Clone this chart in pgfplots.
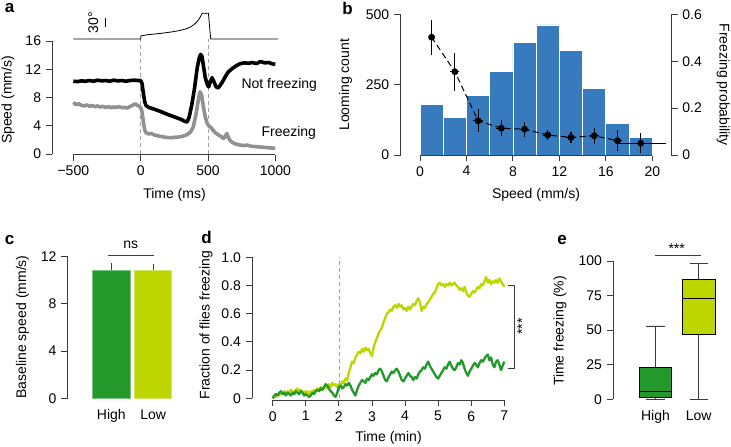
\documentclass[border=0pt]{standalone}
\usepackage{fontspec}
\setmainfont{Liberation Sans}
\usepackage{pgfplots}
\pgfplotsset{compat=1.18}
\usepgfplotslibrary{statistics}
\usepackage{pgfplotstable}

\definecolor{hig}{RGB}{35,152,43}
\definecolor{low}{RGB}{190,214,0}
\definecolor{barblue}{RGB}{55,122,190}
\definecolor{axgray}{RGB}{60,60,60}
\definecolor{curvegray}{RGB}{145,145,145}

% panel a: speed traces
\pgfplotstableread[row sep=\\]{
t v\\
-500 10.3\\ -470 10.25\\ -440 10.35\\ -410 10.3\\ -380 10.4\\ -350 10.3\\ -320 10.45\\ -290 10.35\\
-260 10.4\\ -230 10.3\\ -200 10.45\\ -170 10.35\\ -140 10.4\\ -110 10.3\\ -80 10.4\\ -50 10.45\\
-20 10.4\\ 0 10.4\\ 10 10.0\\ 20 8.6\\ 30 7.4\\ 40 6.85\\ 60 6.6\\ 100 6.35\\ 150 6.0\\ 200 5.6\\
250 5.25\\ 300 4.9\\ 330 4.6\\ 345 4.55\\ 360 5.2\\ 380 7.0\\ 400 9.3\\ 420 12.2\\ 435 13.6\\
445 14.1\\ 455 13.8\\ 465 12.6\\ 480 10.8\\ 495 9.8\\ 505 9.5\\ 515 10.1\\ 530 10.8\\ 545 10.2\\
560 9.5\\ 575 9.35\\ 590 9.7\\ 610 10.3\\ 630 11.0\\ 650 11.6\\ 680 12.1\\ 710 12.5\\ 740 12.8\\
770 12.9\\ 800 12.85\\ 830 12.95\\ 860 12.8\\ 890 13.1\\ 920 12.9\\ 950 12.95\\ 980 12.75\\ 1000 12.7\\
}\notfreeze

\pgfplotstableread[row sep=\\]{
t v\\
-500 7.3\\ -480 7.0\\ -460 7.1\\ -440 6.9\\ -420 6.8\\ -400 6.95\\ -380 6.75\\ -360 6.85\\ -340 6.7\\
-320 6.8\\ -300 6.65\\ -280 6.75\\ -260 6.6\\ -240 6.7\\ -220 6.55\\ -200 6.65\\ -180 6.6\\ -160 6.7\\
-140 6.55\\ -120 6.6\\ -100 6.5\\ -80 6.7\\ -60 6.9\\ -40 7.1\\ -20 6.85\\ 0 6.6\\ 10 6.0\\ 20 4.6\\
30 3.4\\ 40 3.0\\ 60 2.85\\ 80 2.9\\ 100 2.7\\ 130 2.55\\ 160 2.45\\ 190 2.35\\ 220 2.3\\ 250 2.35\\
280 2.4\\ 310 2.5\\ 340 2.7\\ 370 3.1\\ 390 3.8\\ 410 5.5\\ 425 7.3\\ 440 8.8\\ 452 8.4\\ 465 6.8\\
480 5.2\\ 495 4.3\\ 510 3.9\\ 525 3.7\\ 540 3.3\\ 555 3.0\\ 570 2.8\\ 585 2.6\\ 600 2.45\\ 615 2.2\\
628 2.5\\ 640 2.9\\ 652 2.3\\ 665 1.9\\ 680 1.65\\ 700 1.45\\ 730 1.3\\ 760 1.2\\ 790 1.25\\ 820 1.1\\
850 1.05\\ 880 1.0\\ 910 0.95\\ 940 0.9\\ 970 0.85\\ 1000 0.8\\
}\freeze

\pgfplotstableread[row sep=\\]{
t v\\
-500 16.28\\ 0 16.28\\ 0 16.71\\ 50 16.88\\ 100 16.98\\ 150 17.08\\ 200 17.2\\ 250 17.34\\ 300 17.52\\
340 17.74\\ 370 17.98\\ 395 18.3\\ 415 18.65\\ 430 19.0\\ 442 19.38\\ 452 19.75\\ 458 19.92\\
503 19.92\\ 520 16.28\\ 1020 16.28\\
}\stimulus

% panel d: fraction freezing
\pgfplotstableread[row sep=\\]{
t f\\
0.00 0.00\\ 0.05 0.02\\ 0.10 0.01\\ 0.15 0.03\\ 0.20 0.02\\ 0.25 0.04\\ 0.30 0.03\\ 0.35 0.05\\
0.40 0.03\\ 0.45 0.05\\ 0.50 0.04\\ 0.55 0.06\\ 0.60 0.05\\ 0.65 0.04\\ 0.70 0.06\\ 0.75 0.07\\
0.80 0.05\\ 0.85 0.06\\ 0.90 0.04\\ 0.95 0.05\\ 1.00 0.04\\ 1.05 0.05\\ 1.10 0.03\\ 1.15 0.05\\
1.20 0.04\\ 1.25 0.06\\ 1.30 0.05\\ 1.35 0.07\\ 1.40 0.06\\ 1.45 0.08\\ 1.50 0.06\\ 1.55 0.07\\
1.60 0.09\\ 1.65 0.07\\ 1.70 0.10\\ 1.75 0.08\\ 1.80 0.11\\ 1.85 0.09\\ 1.90 0.10\\ 1.95 0.08\\
2.00 0.10\\ 2.05 0.09\\ 2.10 0.12\\ 2.15 0.11\\ 2.20 0.14\\ 2.25 0.13\\ 2.30 0.18\\ 2.35 0.22\\
2.40 0.26\\ 2.45 0.25\\ 2.50 0.29\\ 2.55 0.31\\ 2.60 0.33\\ 2.65 0.32\\ 2.70 0.35\\ 2.75 0.33\\
2.80 0.36\\ 2.85 0.34\\ 2.90 0.35\\ 2.95 0.32\\ 3.00 0.30\\ 3.05 0.36\\ 3.10 0.40\\ 3.15 0.43\\
3.20 0.46\\ 3.25 0.48\\ 3.30 0.50\\ 3.35 0.54\\ 3.40 0.57\\ 3.45 0.60\\ 3.50 0.61\\ 3.55 0.63\\
3.60 0.62\\ 3.65 0.65\\ 3.70 0.66\\ 3.75 0.64\\ 3.80 0.67\\ 3.85 0.65\\ 3.90 0.66\\ 3.95 0.63\\
4.00 0.64\\ 4.05 0.62\\ 4.10 0.65\\ 4.15 0.63\\ 4.20 0.65\\ 4.25 0.67\\ 4.30 0.66\\ 4.35 0.69\\
4.40 0.71\\ 4.45 0.68\\ 4.50 0.62\\ 4.55 0.65\\ 4.60 0.64\\ 4.65 0.67\\ 4.70 0.68\\ 4.75 0.70\\
4.80 0.72\\ 4.85 0.74\\ 4.90 0.75\\ 4.95 0.78\\ 5.00 0.81\\ 5.05 0.82\\ 5.10 0.80\\ 5.15 0.81\\
5.20 0.79\\ 5.25 0.81\\ 5.30 0.80\\ 5.35 0.82\\ 5.40 0.80\\ 5.45 0.81\\ 5.50 0.82\\ 5.55 0.80\\
5.60 0.79\\ 5.65 0.77\\ 5.70 0.78\\ 5.75 0.76\\ 5.80 0.79\\ 5.85 0.75\\ 5.90 0.73\\ 5.95 0.72\\
6.00 0.74\\ 6.05 0.76\\ 6.10 0.75\\ 6.15 0.77\\ 6.20 0.79\\ 6.25 0.78\\ 6.30 0.81\\ 6.35 0.80\\
6.40 0.83\\ 6.45 0.86\\ 6.50 0.82\\ 6.55 0.84\\ 6.60 0.81\\ 6.65 0.83\\ 6.70 0.82\\ 6.75 0.84\\
6.80 0.82\\ 6.85 0.85\\ 6.90 0.83\\ 6.95 0.81\\ 7.00 0.79\\
}\lowdata

\pgfplotstableread[row sep=\\]{
t f\\
0.00 0.00\\ 0.05 0.02\\ 0.10 0.03\\ 0.15 0.02\\ 0.20 0.04\\ 0.25 0.05\\ 0.30 0.03\\ 0.35 0.04\\
0.40 0.02\\ 0.45 0.04\\ 0.50 0.03\\ 0.55 0.02\\ 0.60 0.04\\ 0.65 0.03\\ 0.70 0.05\\ 0.75 0.04\\
0.80 0.03\\ 0.85 0.05\\ 0.90 0.04\\ 0.95 0.02\\ 1.00 0.03\\ 1.05 0.02\\ 1.10 0.01\\ 1.15 0.02\\
1.20 0.04\\ 1.25 0.03\\ 1.30 0.05\\ 1.35 0.06\\ 1.40 0.05\\ 1.45 0.07\\ 1.50 0.06\\ 1.55 0.08\\
1.60 0.10\\ 1.65 0.09\\ 1.70 0.07\\ 1.75 0.05\\ 1.80 0.04\\ 1.85 0.02\\ 1.90 0.01\\ 1.95 0.04\\
2.00 0.08\\ 2.05 0.09\\ 2.10 0.07\\ 2.15 0.08\\ 2.20 0.10\\ 2.25 0.09\\ 2.30 0.11\\ 2.35 0.09\\
2.40 0.06\\ 2.45 0.04\\ 2.50 0.02\\ 2.55 0.06\\ 2.60 0.09\\ 2.65 0.11\\ 2.70 0.13\\ 2.75 0.12\\
2.80 0.11\\ 2.85 0.14\\ 2.90 0.13\\ 2.95 0.15\\ 3.00 0.17\\ 3.05 0.16\\ 3.10 0.18\\ 3.15 0.17\\
3.20 0.20\\ 3.25 0.21\\ 3.30 0.19\\ 3.35 0.16\\ 3.40 0.13\\ 3.45 0.12\\ 3.50 0.15\\ 3.55 0.17\\
3.60 0.19\\ 3.65 0.18\\ 3.70 0.20\\ 3.75 0.21\\ 3.80 0.19\\ 3.85 0.16\\ 3.90 0.13\\ 3.95 0.12\\
4.00 0.14\\ 4.05 0.16\\ 4.10 0.18\\ 4.15 0.16\\ 4.20 0.15\\ 4.25 0.13\\ 4.30 0.15\\ 4.35 0.14\\
4.40 0.17\\ 4.45 0.19\\ 4.50 0.20\\ 4.55 0.22\\ 4.60 0.21\\ 4.65 0.24\\ 4.70 0.26\\ 4.75 0.23\\
4.80 0.21\\ 4.85 0.19\\ 4.90 0.17\\ 4.95 0.15\\ 5.00 0.14\\ 5.05 0.16\\ 5.10 0.18\\ 5.15 0.20\\
5.20 0.22\\ 5.25 0.21\\ 5.30 0.24\\ 5.35 0.26\\ 5.40 0.23\\ 5.45 0.21\\ 5.50 0.20\\ 5.55 0.22\\
5.60 0.25\\ 5.65 0.24\\ 5.70 0.27\\ 5.75 0.25\\ 5.80 0.21\\ 5.85 0.18\\ 5.90 0.16\\ 5.95 0.19\\
6.00 0.21\\ 6.05 0.23\\ 6.10 0.25\\ 6.15 0.24\\ 6.20 0.22\\ 6.25 0.25\\ 6.30 0.27\\ 6.35 0.26\\
6.40 0.28\\ 6.45 0.30\\ 6.50 0.31\\ 6.55 0.27\\ 6.60 0.29\\ 6.65 0.24\\ 6.70 0.22\\ 6.75 0.26\\
6.80 0.27\\ 6.85 0.24\\ 6.90 0.20\\ 6.95 0.23\\ 7.00 0.26\\
}\highdata

\tikzset{axl/.style={axgray, line width=0.9bp}}
\pgfplotsset{
  rstyle/.style={scale only axis, clip=false, axis lines*=left,
    axis line style={draw=none}, tick align=outside,
    major tick length=6.5bp, tick style={axgray, line width=0.9bp},
    minor tick num=0},
}

\begin{document}
\fontsize{14bp}{16.8bp}\selectfont
\begin{tikzpicture}[x=1bp,y=1bp]
\useasboundingbox (0,0) rectangle (731,447);

% ---------------- panel a
\begin{axis}[rstyle, at={(52.43bp,292.3bp)}, anchor=south west,
  width=225.6bp, height=141.96bp,
  xmin=-655, xmax=1020, ymin=-0.1, ymax=20,
  xtick={-500,0,500,1000}, xticklabels={−500,0,500,1000},
  ytick={0,4,8,12,16}, yticklabels={0,4,8,12,16}]
  \draw[axl] (axis cs:-655,0) -- (axis cs:-655,16);
  \draw[axl] (axis cs:-500,-0.1) -- (axis cs:1000,-0.1);
  \addplot[gray!75, line width=0.7bp, dash pattern=on 4bp off 3bp] coordinates {(0,0) (0,16.28)};
  \addplot[gray!75, line width=0.7bp, dash pattern=on 4bp off 3bp] coordinates {(500,0) (500,16.28)};
  \addplot[curvegray, line width=3.6bp, line join=round] table {\freeze};
  \addplot[black, line width=3.6bp, line join=round] table {\notfreeze};
  \addplot[black, line width=0.8bp] table {\stimulus};
  \addplot[black, line width=0.9bp] coordinates {(-265,17.94) (-265,19.21)};
  \node[rotate=90] at (axis cs:-352,18.62) {30°};
\end{axis}
\node[anchor=base west] at (236.7,358.7) {Not freezing};
\node[anchor=base west] at (256.7,310.3) {Freezing};

% ---------------- panel b
\begin{axis}[rstyle, at={(400.5bp,292bp)}, anchor=south west,
  width=270.5bp, height=140.7bp,
  xmin=-1.679, xmax=21.61, ymin=0, ymax=500,
  xtick={0,4,8,12,16,20}, xticklabels={0,4,8,12,16,20},
  ytick={0,250,500}, yticklabels={0,250,500}]
  \addplot[ybar, bar width=23.23bp, bar shift=0pt, fill=barblue, draw=white, line width=0.8bp]
    coordinates {(1,180) (3,133) (5,212) (7,298) (9,400) (11,462) (13,373) (15,237) (17,111) (19,62)};
  \draw[axl] (axis cs:-1.679,0) -- (axis cs:-1.679,500);
  \draw[axl] (axis cs:0,0) -- (axis cs:20,0);
\end{axis}
\begin{axis}[rstyle, at={(400.5bp,292bp)}, anchor=south west,
  width=270.5bp, height=140.7bp,
  axis x line=none, axis y line*=right, axis line style={draw=none},
  xmin=-1.679, xmax=21.61, ymin=0, ymax=0.6, xtick=\empty,
  ytick={0,0.2,0.4,0.6}, yticklabels={0,0.2,0.4,0.6}]
  \draw[axl] (axis cs:21.61,0) -- (axis cs:21.61,0.6);
  \addplot[black, line width=1bp, dash pattern=on 6bp off 3.5bp]
    coordinates {(1,0.502) (3,0.355) (5,0.146) (7,0.114) (9,0.110) (11,0.085) (13,0.075) (15,0.082) (17,0.061)};
  \addplot[black, line width=1bp] coordinates {(17,0.05) (21.15,0.05)};
  \addplot[black, only marks, mark=*, mark size=3.2bp,
    error bars/.cd, x dir=both, x explicit, y dir=both, y explicit,
    error mark=none, error bar style={black, line width=1.1bp}]
    coordinates {
      (1,0.502) +- (0.2,0.075)
      (3,0.355) +- (0.38,0.08)
      (5,0.146) +- (0.42,0.048)
      (7,0.114) +- (0.42,0.035)
      (9,0.110) +- (0.42,0.032)
      (11,0.085) +- (0.42,0.023)
      (13,0.075) +- (0.42,0.025)
      (15,0.082) +- (0.42,0.034)
      (17,0.061) +- (0.42,0.045)
      (19,0.050) +- (0.42,0.042)
    };
\end{axis}

% ---------------- panel c
\begin{axis}[rstyle, at={(67.7bp,48.7bp)}, anchor=south west,
  width=106.3bp, height=141.6bp,
  xmin=-0.044, xmax=2.5, ymin=0, ymax=12,
  xtick={1,2}, xticklabels={High,Low}, major x tick style={draw=none},
  ytick={0,4,8,12}, yticklabels={0,4,8,12}]
  \draw[axl] (axis cs:-0.044,0) -- (axis cs:-0.044,12);
  \addplot[ybar, bar width=37.3bp, bar shift=0pt, fill=hig, draw=hig!60!white, line width=0.6bp,
    error bars/.cd, y dir=plus, y explicit, error mark=none,
    error bar style={axgray, line width=0.9bp}]
    coordinates {(1,10.87) +- (0,0.62)};
  \addplot[ybar, bar width=37.3bp, bar shift=0pt, fill=low, draw=low!60!white, line width=0.6bp,
    error bars/.cd, y dir=plus, y explicit, error mark=none,
    error bar style={axgray, line width=0.9bp}]
    coordinates {(2,10.87) +- (0,0.48)};
  \draw[axl] (axis cs:0.92,12.14) -- (axis cs:2.02,12.14);
  \node[anchor=base] at (axis cs:1.463,12.71) {ns};
\end{axis}

% ---------------- panel d
\begin{axis}[rstyle, at={(252.3bp,47bp)}, anchor=south west,
  width=258.6bp, height=142.7bp,
  xmin=-0.617, xmax=7.2, ymin=-0.012, ymax=1.0,
  xtick={0,1,2,3,4,5,6,7}, xticklabels={0,1,2,3,4,5,6,7},
  ytick={0,0.2,0.4,0.6,0.8,1.0}, yticklabels={0,0.2,0.4,0.6,0.8,1.0}]
  \draw[axl] (axis cs:-0.617,0) -- (axis cs:-0.617,1);
  \draw[axl] (axis cs:0,-0.012) -- (axis cs:7,-0.012);
  \addplot[gray!75, line width=0.7bp, dash pattern=on 4bp off 3bp] coordinates {(2,0) (2,1)};
  \addplot[low, line width=2.3bp, line join=round] table {\lowdata};
  \addplot[hig, line width=2.3bp, line join=round] table {\highdata};
  \draw[axl] (axis cs:7.12,0.803) -- (axis cs:7.32,0.803) -- (axis cs:7.32,0.213) -- (axis cs:7.12,0.213);
  \node[rotate=90, anchor=base] at (axis cs:7.68,0.508) {***};
\end{axis}

% ---------------- panel e
\begin{axis}[rstyle, at={(613.3bp,47.7bp)}, anchor=south west,
  width=102.7bp, height=138.3bp,
  xmin=0.023, xmax=2.4, ymin=0, ymax=100,
  xtick={1,2}, xticklabels={High,Low}, major x tick style={draw=none},
  ytick={0,25,50,75,100}, yticklabels={0,25,50,75,100},
  boxplot/draw direction=y]
  \draw[axl] (axis cs:0.023,0) -- (axis cs:0.023,100);
  \addplot[fill=hig, draw=black, line width=0.9bp,
    boxplot prepared={lower whisker=0, lower quartile=1.4,
    median=6, upper quartile=23.1, upper whisker=53, draw position=1,
    box extend=0.76, whisker extend=0.42, draw direction=y,
    every whisker/.style={axgray, line width=0.9bp}}] coordinates {};
  \addplot[fill=low, draw=black, line width=0.9bp,
    boxplot prepared={lower whisker=0, lower quartile=47,
    median=73, upper quartile=86.8, upper whisker=98.3, draw position=2,
    box extend=0.76, whisker extend=0.42, draw direction=y,
    every whisker/.style={axgray, line width=0.9bp}}] coordinates {};
  \draw[axl] (axis cs:0.988,104.3) -- (axis cs:2.046,104.3);
  \node[anchor=base] at (axis cs:1.49,105.2) {***};
\end{axis}

% ---------------- panel letters and axis titles
\begin{scope}[every node/.style={font=\bfseries\fontsize{17bp}{17bp}\selectfont}]
\node[anchor=base west] at (0,434) {a};
\node[anchor=base west] at (337.5,432) {b};
\node[anchor=base west] at (0,202) {c};
\node[anchor=base west] at (196.5,203) {d};
\node[anchor=base west] at (552.5,202) {e};
\end{scope}

\node[rotate=90, anchor=base] at (11.5,347) {Speed (mm/s)};
\node[anchor=base] at (174.5,248.7) {Time (ms)};
\node[rotate=90, anchor=base] at (349,362.3) {Looming count};
\node[anchor=base] at (536,248.7) {Speed (mm/s)};
\node[rotate=-90, anchor=base] at (719.5,362.3) {Freezing probability};
\node[rotate=90, anchor=base] at (26,120) {Baseline speed (mm/s)};
\node[rotate=90, anchor=base] at (209.5,122) {Fraction of flies freezing};
\node[anchor=base] at (388.5,5.3) {Time (min)};
\node[rotate=90, anchor=base] at (563.5,116) {Time freezing (\%)};
\end{tikzpicture}
\end{document}
